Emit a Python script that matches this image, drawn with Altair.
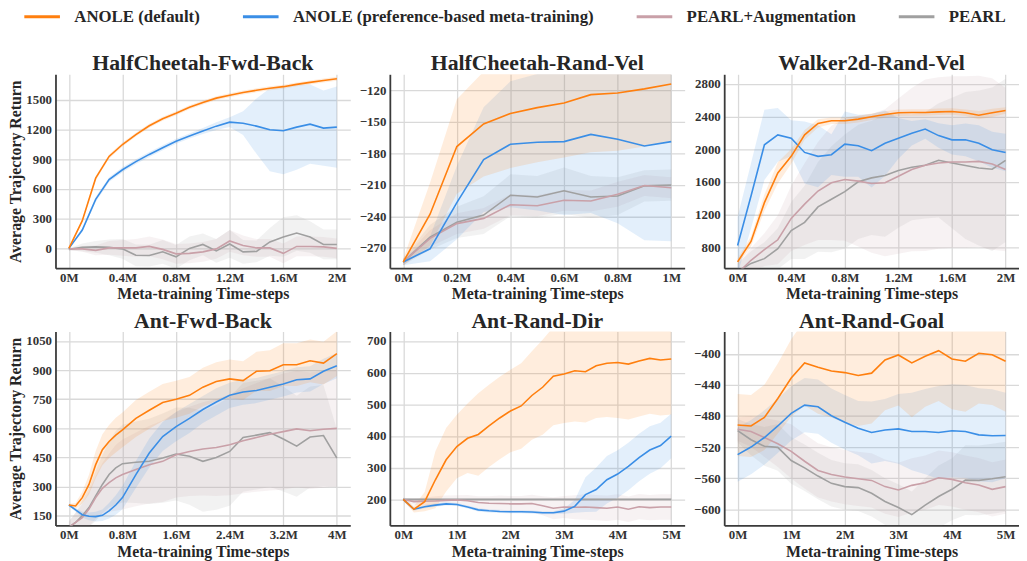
import altair as alt
import pandas as pd

SERIES = ["ANOLE (default)", "ANOLE (preference-based meta-training)", "PEARL+Augmentation", "PEARL"]
COLORS = ["#ff7f0e", "#3a8ee6", "#c9a0a8", "#a0a0a0"]
XTITLE = "Meta-training Time-steps"
YTITLE = "Average Trajectory Return"

# ---------- HalfCheetah-Fwd-Back ----------
hcfb_x = [0, 0.1, 0.2, 0.3, 0.4, 0.5, 0.6, 0.7, 0.8, 0.9, 1.0, 1.1, 1.2, 1.3, 1.4, 1.5, 1.6, 1.7, 1.8, 1.9, 2.0]
hcfb_anole = [0, 280, 710, 930, 1050, 1150, 1240, 1310, 1366, 1426, 1475, 1519, 1549, 1575, 1598, 1618, 1635, 1658, 1678, 1698, 1715]
hcfb_anole_band = [5, 15, 20, 20, 20, 20, 20, 20, 20, 20, 20, 20, 20, 20, 20, 20, 20, 20, 20, 20, 20]
hcfb_pref = [0, 186, 495, 695, 795, 877, 950, 1017, 1083, 1137, 1186, 1236, 1276, 1266, 1236, 1200, 1190, 1226, 1256, 1216, 1226]
hcfb_pref_band = [5, 20, 25, 25, 25, 25, 25, 25, 25, 25, 30, 40, 50, 120, 280, 420, 440, 430, 400, 380, 410]
hcfb_aug = [-5, -5, -20, 5, 5, 5, 20, -10, -55, -50, -35, -5, 75, 30, 5, 5, -50, 20, 20, 15, 0]
hcfb_aug_band = [10, 30, 50, 70, 80, 90, 100, 100, 100, 100, 100, 100, 110, 100, 90, 90, 100, 100, 100, 100, 100]
hcfb_pearl = [-10, 10, 15, 10, -5, -70, -72, -35, -85, 0, 40, -25, 45, -35, -30, 65, 115, 155, 115, 40, 40]
hcfb_pearl_band = [10, 40, 60, 80, 100, 110, 110, 120, 120, 120, 110, 120, 140, 120, 110, 140, 200, 180, 160, 150, 150]

# ---------- HalfCheetah-Rand-Vel ----------
hcrv_x = [0, 0.1, 0.2, 0.3, 0.4, 0.5, 0.6, 0.7, 0.8, 0.9, 1.0]
hcrv_anole = [-283.6, -238, -173.5, -152, -142, -136.4, -132, -124, -122.5, -118.5, -113.8]
hcrv_anole_band = [3, 30, 45, 50, 52, 52, 52, 55, 55, 55, 55]
hcrv_pref = [-283.6, -271, -227, -186, -171.3, -169.4, -168.8, -161.9, -166.6, -172.9, -168.8]
hcrv_pref_band = [3, 12, 35, 50, 60, 65, 70, 75, 80, 90, 95]
hcrv_aug = [-283.6, -261, -247, -242, -229, -230, -224.7, -225.4, -219, -210.6, -212.8]
hcrv_aug_band = [3, 8, 10, 10, 10, 10, 10, 10, 12, 10, 10]
hcrv_pearl = [-283.6, -260, -245.8, -238.9, -220, -221.6, -215.6, -221.6, -220.7, -211, -210.3]
hcrv_pearl_band = [3, 12, 15, 18, 20, 20, 22, 20, 18, 15, 15]

# ---------- Walker2d-Rand-Vel ----------
wrv_x = [0, 0.1, 0.2, 0.3, 0.4, 0.5, 0.6, 0.7, 0.8, 0.9, 1.0, 1.1, 1.2, 1.3, 1.4, 1.5, 1.6, 1.7, 1.8, 1.9, 2.0]
wrv_anole = [620, 869, 1345, 1709, 1912, 2175, 2315, 2348, 2348, 2368, 2396, 2424, 2445, 2449, 2449, 2457, 2461, 2445, 2416, 2445, 2473]
wrv_anole_band = [40, 60, 100, 130, 90, 60, 50, 40, 40, 40, 40, 40, 40, 40, 40, 40, 40, 40, 50, 50, 40]
wrv_pref = [820, 1427, 2053, 2175, 2133, 1960, 1912, 1932, 2061, 2041, 1981, 2073, 2133, 2194, 2247, 2166, 2114, 2114, 2073, 1993, 1960]
wrv_pref_band = [350, 400, 430, 330, 220, 380, 380, 250, 400, 380, 450, 400, 250, 150, 120, 150, 180, 200, 220, 220, 230]
wrv_aug = [480, 639, 769, 890, 1152, 1326, 1487, 1588, 1629, 1608, 1580, 1588, 1669, 1750, 1802, 1830, 1842, 1842, 1850, 1818, 1750]
wrv_aug_band = [100, 150, 200, 300, 400, 500, 600, 700, 750, 800, 850, 900, 950, 1000, 1050, 1050, 1050, 1050, 1050, 1050, 1000]
wrv_pearl = [500, 600, 659, 781, 1003, 1103, 1293, 1387, 1479, 1600, 1648, 1677, 1738, 1778, 1802, 1863, 1830, 1799, 1770, 1754, 1863]
wrv_pearl_band = [100, 150, 200, 250, 350, 450, 550, 650, 700, 700, 700, 750, 700, 650, 650, 700, 800, 900, 950, 1000, 1000]

# ---------- Ant-Fwd-Back ----------
afb_x = [0, 0.1, 0.2, 0.3, 0.4, 0.5, 0.6, 0.7, 0.8, 1.0, 1.2, 1.4, 1.6, 1.8, 2.0, 2.2, 2.4, 2.6, 2.8, 3.0, 3.2, 3.4, 3.6, 3.8, 4.0]
afb_anole = [205, 200, 243, 311, 413, 490, 532, 565, 592, 651, 693, 733, 750, 770, 812, 841, 855, 846, 894, 897, 928, 928, 948, 936, 985]
afb_anole_band = [5, 15, 30, 50, 70, 80, 85, 90, 90, 95, 95, 95, 95, 95, 100, 100, 100, 100, 100, 105, 110, 110, 110, 110, 115]
afb_pref = [205, 180, 155, 147, 145, 152, 175, 205, 243, 362, 473, 558, 609, 651, 697, 736, 770, 787, 795, 812, 829, 850, 855, 894, 923]
afb_pref_band = [5, 10, 15, 20, 25, 30, 40, 50, 60, 70, 75, 75, 75, 75, 70, 70, 65, 65, 65, 65, 65, 65, 65, 65, 65]
afb_aug = [90, 115, 140, 184, 243, 291, 320, 345, 362, 388, 413, 430, 464, 481, 494, 501, 515, 536, 553, 570, 583, 597, 588, 595, 600]
afb_aug_band = [30, 50, 70, 90, 110, 130, 150, 170, 180, 190, 200, 210, 220, 230, 240, 250, 260, 270, 280, 290, 300, 300, 300, 300, 300]
afb_pearl = [90, 115, 150, 192, 252, 311, 362, 396, 418, 425, 430, 447, 468, 456, 430, 450, 481, 553, 565, 578, 545, 508, 555, 563, 447]
afb_pearl_band = [30, 50, 80, 100, 130, 150, 170, 190, 200, 210, 220, 230, 240, 250, 260, 270, 280, 280, 280, 280, 270, 260, 260, 260, 150]

# ---------- Ant-Rand-Dir ----------
ard_x = [0, 0.2, 0.4, 0.6, 0.8, 1.0, 1.2, 1.4, 1.6, 1.8, 2.0, 2.2, 2.4, 2.6, 2.8, 3.0, 3.2, 3.4, 3.6, 3.8, 4.0, 4.2, 4.4, 4.6, 4.8, 5.0]
ard_anole = [200, 169, 193, 262, 325, 367, 393, 405, 432, 457, 479, 495, 528, 554, 589, 596, 606, 603, 622, 630, 632, 627, 637, 645, 640, 643]
ard_anole_band = [5, 10, 30, 90, 100, 100, 110, 130, 130, 130, 130, 135, 140, 150, 155, 155, 160, 160, 165, 170, 175, 175, 175, 175, 175, 175]
ard_pref = [200, 169, 177, 182, 186, 184, 176, 167, 164, 162, 161, 161, 160, 158, 158, 163, 178, 215, 231, 262, 280, 304, 332, 356, 370, 400]
ard_pref_band = [5, 5, 5, 5, 5, 5, 5, 5, 5, 5, 5, 5, 5, 5, 5, 8, 20, 55, 70, 75, 75, 75, 75, 75, 72, 70]
ard_aug = [200, 193, 194, 195, 197, 198, 196, 190, 188, 187, 186, 186, 187, 180, 172, 176, 175, 176, 174, 172, 176, 169, 177, 174, 176, 176]
ard_aug_band = [5, 10, 12, 15, 15, 15, 18, 20, 22, 25, 25, 25, 28, 30, 35, 35, 38, 40, 40, 40, 40, 40, 40, 40, 40, 40]
ard_pearl = [200, 200, 200, 200, 200, 200, 200, 200, 200, 200, 200, 200, 200, 200, 200, 200, 200, 200, 200, 200, 200, 200, 200, 200, 200, 200]
ard_pearl_band = [4, 4, 4, 4, 4, 4, 4, 4, 4, 4, 4, 4, 4, 4, 4, 4, 4, 4, 4, 4, 4, 4, 4, 4, 4, 4]

# ---------- Ant-Rand-Goal ----------
arg_x = [0, 0.25, 0.5, 0.75, 1.0, 1.25, 1.5, 1.75, 2.0, 2.25, 2.5, 2.75, 3.0, 3.25, 3.5, 3.75, 4.0, 4.25, 4.5, 4.75, 5.0]
arg_anole = [-491.5, -492.8, -481.7, -457.4, -431, -411.5, -417, -422, -424, -427.7, -424.7, -407.7, -401.3, -411.5, -403, -395.7, -406.4, -409.4, -399, -400.9, -409.4]
arg_anole_band = [40, 40, 42, 45, 50, 55, 60, 60, 65, 65, 65, 65, 65, 70, 65, 65, 65, 65, 65, 65, 65]
arg_pref = [-529.8, -520, -507.7, -492.8, -476.6, -466, -468, -479.6, -488, -495.7, -501.3, -497.9, -496.6, -500, -500, -501.3, -499, -500, -504.3, -505.5, -505.1]
arg_pref_band = [35, 35, 35, 35, 35, 35, 35, 35, 35, 35, 40, 40, 45, 50, 55, 60, 60, 60, 60, 60, 55]
arg_aug = [-497, -500, -507.7, -515.7, -525.5, -538.3, -550.2, -555.3, -558.7, -560.9, -563, -571, -575.3, -569.4, -566, -559.6, -561.7, -566, -569, -574.5, -571]
arg_aug_band = [15, 20, 25, 30, 35, 35, 35, 35, 35, 35, 35, 35, 35, 35, 35, 35, 35, 35, 35, 35, 35]
arg_pearl = [-498.7, -510.6, -519, -520.4, -537.4, -546.8, -557.4, -566.8, -571, -572.3, -579.6, -590.2, -597.9, -607.2, -594.9, -583.8, -574.5, -562.6, -563, -560.9, -558.3]
arg_pearl_band = [15, 20, 25, 30, 30, 30, 30, 30, 30, 30, 30, 30, 30, 30, 35, 40, 40, 45, 45, 45, 45]


def table(x, groups):
    rows = []
    # draw order: PEARL first, ANOLE (default) last (on top)
    for name, (mean, band) in reversed(list(zip(SERIES, groups))):
        for xi, m, b in zip(x, mean, band):
            rows.append({"x": xi, "y": m, "lo": m - b, "hi": m + b, "series": name})
    return pd.DataFrame(rows)


LEGEND = alt.Legend(
    title=None, orient="none", legendX=-33, legendY=-78, direction="horizontal",
    labelFont="Liberation Serif", labelFontSize=17, labelFontWeight="bold", labelColor="#262626",
    symbolType="stroke", symbolSize=1296, symbolStrokeWidth=3, symbolOpacity=1,
    labelOffset=13, columnPadding=36, padding=0, labelLimit=500,
)
COLOR_SCALE = alt.Scale(domain=SERIES, range=COLORS)


def panel(df, title, xdom, xticks, ydom, yticks, ytitle):
    xs = alt.X("x:Q", scale=alt.Scale(domain=xdom, nice=False, zero=False),
               axis=alt.Axis(values=xticks, labelExpr="datum.value + 'M'", title=XTITLE,
                             labelPadding=3, titlePadding=2))
    if ytitle:
        yaxis = alt.Axis(values=yticks, format="d", labelPadding=4, titlePadding=2, title=ytitle)
    else:
        yaxis = alt.Axis(values=yticks, format="d", labelPadding=4, title=None)
    yscale = alt.Scale(domain=ydom, nice=False, zero=False)
    band = alt.Chart(df).mark_area(clip=True, fillOpacity=0.14).encode(
        x=xs,
        y=alt.Y("lo:Q", scale=yscale, axis=yaxis),
        y2="hi:Q",
        color=alt.Color("series:N", scale=COLOR_SCALE, legend=LEGEND),
    )
    line = alt.Chart(df).mark_line(clip=True, strokeWidth=1.6).encode(
        x=xs,
        y=alt.Y("y:Q", scale=yscale, axis=yaxis),
        color=alt.Color("series:N", scale=COLOR_SCALE, legend=LEGEND),
    )
    return alt.layer(band, line).properties(
        width=298, height=196,
        title=alt.TitleParams(title, font="Liberation Serif", fontSize=22, fontWeight="bold",
                              color="#262626", offset=4, baseline="alphabetic", dy=22),
    )


p1 = panel(table(hcfb_x, [(hcfb_anole, hcfb_anole_band), (hcfb_pref, hcfb_pref_band),
                          (hcfb_aug, hcfb_aug_band), (hcfb_pearl, hcfb_pearl_band)]),
           "HalfCheetah-Fwd-Back", [-0.1, 2.1], [0, 0.4, 0.8, 1.2, 1.6, 2],
           [-200, 1760], [0, 300, 600, 900, 1200, 1500], YTITLE)
p2 = panel(table(hcrv_x, [(hcrv_anole, hcrv_anole_band), (hcrv_pref, hcrv_pref_band),
                          (hcrv_aug, hcrv_aug_band), (hcrv_pearl, hcrv_pearl_band)]),
           "HalfCheetah-Rand-Vel", [-0.05, 1.05], [0, 0.2, 0.4, 0.6, 0.8, 1],
           [-289.5, -104.6], [-270, -240, -210, -180, -150, -120], None)
p3 = panel(table(wrv_x, [(wrv_anole, wrv_anole_band), (wrv_pref, wrv_pref_band),
                         (wrv_aug, wrv_aug_band), (wrv_pearl, wrv_pearl_band)]),
           "Walker2d-Rand-Vel", [-0.1, 2.1], [0, 0.4, 0.8, 1.2, 1.6, 2],
           [542, 2917], [800, 1200, 1600, 2000, 2400, 2800], None)
p4 = panel(table(afb_x, [(afb_anole, afb_anole_band), (afb_pref, afb_pref_band),
                         (afb_aug, afb_aug_band), (afb_pearl, afb_pearl_band)]),
           "Ant-Fwd-Back", [-0.2, 4.2], [0, 0.8, 1.6, 2.4, 3.2, 4],
           [100, 1099], [150, 300, 450, 600, 750, 900, 1050], YTITLE)
p5 = panel(table(ard_x, [(ard_anole, ard_anole_band), (ard_pref, ard_pref_band),
                         (ard_aug, ard_aug_band), (ard_pearl, ard_pearl_band)]),
           "Ant-Rand-Dir", [-0.25, 5.25], [0, 1, 2, 3, 4, 5],
           [118, 730], [200, 300, 400, 500, 600, 700], None)
p6 = panel(table(arg_x, [(arg_anole, arg_anole_band), (arg_pref, arg_pref_band),
                         (arg_aug, arg_aug_band), (arg_pearl, arg_pearl_band)]),
           "Ant-Rand-Goal", [-0.25, 5.25], [0, 1, 2, 3, 4, 5],
           [-621, -371], [-600, -560, -520, -480, -440, -400], None)

chart = (
    alt.concat(p1, p2, p3, p4, p5, p6, columns=3, spacing={"row": 64, "column": 40}, bounds="flush")
    .resolve_scale(x="independent", y="independent")
    .properties(padding={"top": -14, "left": 0, "right": 0, "bottom": 0})
    .configure_view(strokeWidth=0)
    .configure_axis(
        labelFont="Liberation Serif", labelFontSize=13, labelFontWeight="bold", labelColor="#333333",
        titleFont="Liberation Serif", titleFontSize=16, titleFontWeight="bold", titleColor="#262626",
        gridColor="#d9d9d9", gridWidth=1.3, domainColor="#3a3a3a", domainWidth=1.8, ticks=False,
    )
)

chart.save("out.html", embed_options={"renderer": "svg", "actions": False})
